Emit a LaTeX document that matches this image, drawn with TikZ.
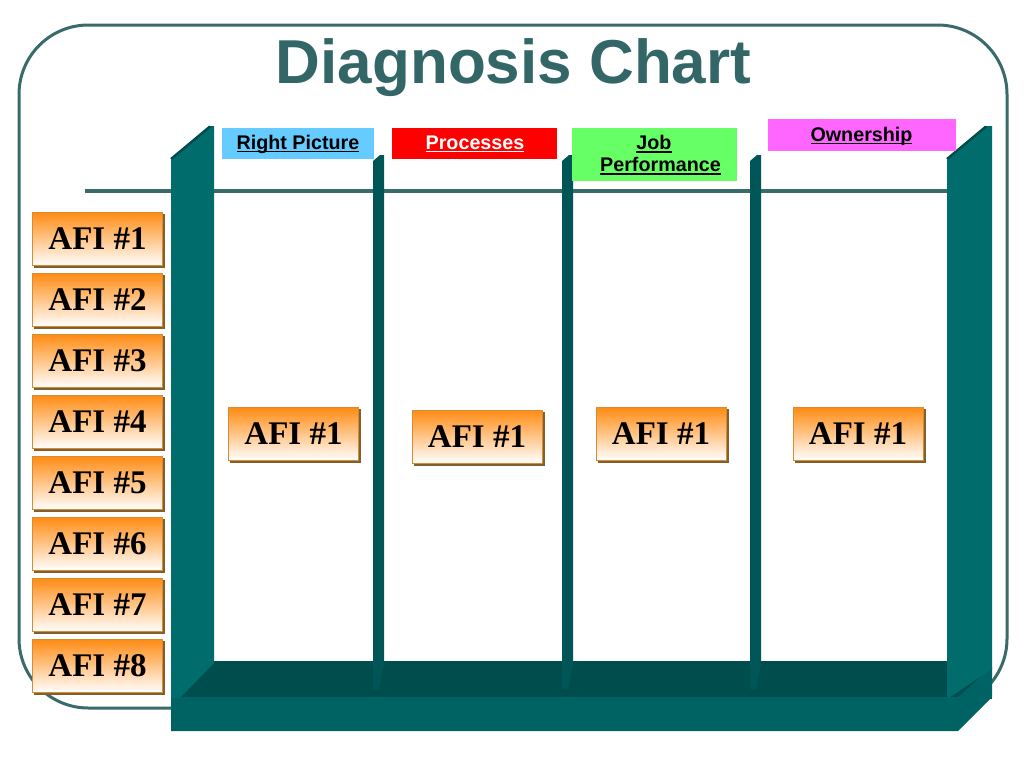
\documentclass[tikz,border=0pt]{standalone}
\usepackage{fontspec}
\setmainfont{Liberation Serif}
\newfontfamily\arialf{Liberation Sans}
\usetikzlibrary{shadows}
\definecolor{framec}{RGB}{58,107,107}
\definecolor{titlec}{RGB}{51,102,102}
\definecolor{postc}{RGB}{0,108,108}
\definecolor{postdark}{RGB}{0,76,76}
\definecolor{floortop}{RGB}{0,77,77}
\definecolor{floorfront}{RGB}{0,99,99}
\definecolor{divc}{RGB}{0,86,86}
\definecolor{hblue}{RGB}{102,204,255}
\definecolor{hred}{RGB}{255,0,0}
\definecolor{hgreen}{RGB}{102,255,102}
\definecolor{hpink}{RGB}{255,102,255}
\definecolor{afitop}{RGB}{255,140,20}
\definecolor{afiedge}{RGB}{214,140,50}
\definecolor{afishadow}{RGB}{130,95,45}
\newcommand\myul[1]{\setbox0\hbox{#1}\rlap{\rule[-0.16em]{\wd0}{0.08em}}\box0}
\tikzset{
  afibox/.style={draw=afiedge, line width=0.6pt, top color=afitop, bottom color=white,
    minimum width=97.5pt, minimum height=39.75pt, inner sep=0pt,
    font=\fontsize{24.75}{28}\selectfont\bfseries,
    copy shadow={shadow xshift=1.5pt, shadow yshift=-1.5pt, fill=afishadow, draw=afishadow}},
  hdrbox/.style={inner sep=0pt, draw=none},
  hdrtext/.style={anchor=base, inner sep=0pt, font=\arialf\fontsize{14.8}{17}\selectfont\bfseries},
}
\begin{document}
\begin{tikzpicture}[x=0.75pt, y=-0.75pt]
\useasboundingbox (0,0) rectangle (1024,768);
\fill[white] (0,0) rectangle (1024,768);
% frame
\draw[framec, line width=2.25pt, rounded corners=52pt] (19,25) rectangle (1007,708);
% horizontal rule
\coordinate (hl) at (85,191);
\coordinate (hr) at (948,191);
\draw[framec, line width=3pt] (hl) -- (hr);
% floor
\fill[floortop] (172,661) rectangle (992,699);
\fill[floorfront] (171,697) -- (958,697) -- (992,667) -- (992,697) -- (958,731) -- (171,731) -- cycle;
% right post
\fill[postc] (947,699) -- (947,160) -- (985,126) -- (992,126) -- (992,669) -- cycle;
\draw[postdark, line width=1.8pt] (947,159) -- (986,126.5);
% left post
\fill[postc] (171,698) -- (171,160) -- (209,126) -- (214,126) -- (214,663) -- (180,698) -- cycle;
\draw[postdark, line width=1.8pt] (171,159) -- (210,126.5);
% dividers
\foreach \x in {373,562,750}{
  \fill[divc] (\x,689) -- (\x,161) -- ({\x+7},155) -- ({\x+11},155) -- ({\x+11},665) -- ({\x+6},689) -- cycle;
}
% header boxes
\node[hdrbox, fill=hblue, minimum width=114pt, minimum height=23.25pt] (rpbox) at (298,143.5) {};
\node[hdrbox, fill=hred, minimum width=123.75pt, minimum height=23.25pt] (prbox) at (474.5,143.5) {};
\node[hdrbox, fill=hgreen, minimum width=123.75pt, minimum height=39.75pt] (jpbox) at (654.5,154.5) {};
\node[hdrbox, fill=hpink, minimum width=141pt, minimum height=24pt] (owbox) at (862,135) {};
\node[hdrtext] (rptext) at (298,149) {\myul{Right Picture}};
\node[hdrtext, text=white] (prtext) at (475,149) {\myul{Processes}};
\node[hdrtext] (jptext1) at (654,149.5) {\myul{Job}};
\node[hdrtext] (jptext2) at (660.5,171.5) {\myul{Performance}};
\node[hdrtext] (owtext) at (861.5,141) {\myul{Ownership}};
% left AFI column
\foreach \i in {1,...,8}{
  \node[afibox] (L\i) at (97.5,{239+61*(\i-1)}) {AFI \#\i};
}
% AFI boxes in the columns
\node[afibox] (C1) at (293.5,434) {AFI \#1};
\node[afibox] (C2) at (477,436.5) {AFI \#1};
\node[afibox] (C3) at (661,434) {AFI \#1};
\node[afibox] (C4) at (858,434) {AFI \#1};
% title
\node[anchor=base, inner sep=0pt, text=titlec, font=\arialf\fontsize{46.5}{50}\selectfont\bfseries] (title) at (513.5,83) {Diagnosis Chart};
\end{tikzpicture}
\end{document}
